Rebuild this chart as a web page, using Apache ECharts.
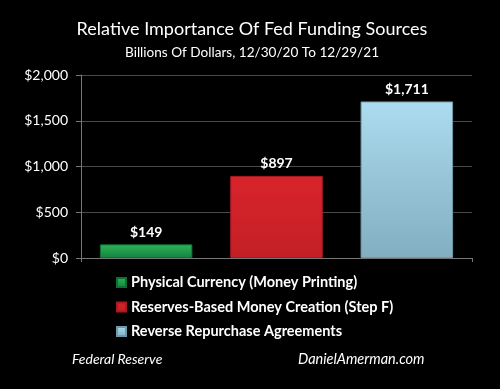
<!DOCTYPE html>
<html><head><meta charset="utf-8">
<script src="https://cdn.jsdelivr.net/npm/echarts@6/dist/echarts.min.js"></script>
<style>html,body{margin:0;padding:0;background:#000;}#c{width:500px;height:389px;}</style>
</head><body><div id="c"></div>
<script>
var categories = ['Physical Currency (Money Printing)', 'Reserves-Based Money Creation (Step F)', 'Reverse Repurchase Agreements'];
var values = [149, 897, 1711];
var yTicks = [0, 500, 1000, 1500, 2000];

var font = 'Lato, "Open Sans", sans-serif';
var fills = [
  new echarts.graphic.LinearGradient(0,0,0,1,[{offset:0,color:'#2fb35a'},{offset:1,color:'#12843e'}]),
  new echarts.graphic.LinearGradient(0,0,0,1,[{offset:0,color:'#d8242b'},{offset:1,color:'#c41f26'}]),
  new echarts.graphic.LinearGradient(0,0,0,1,[{offset:0,color:'#acdcef'},{offset:1,color:'#82aec0'}])
];
var legendColors = ['#1a9a4a', '#d0222a', '#9ccbe0'];
var borders = ['#0e6f32', '#a81a20', '#6f98a8'];

var series = categories.map(function(name, i){
  var d = categories.map(function(_, j){ return j === i ? values[j] : '-'; });
  return {
    name: name, type: 'bar', stack: 'all', data: d, barWidth: '71%',
    color: legendColors[i],
    itemStyle: { color: fills[i], borderColor: borders[i], borderWidth: 1 },
    label: { show: true, position: 'top', color: '#fff', fontFamily: font, fontWeight: 'bold', fontSize: 14,
      formatter: function(p){ return '$' + p.value.toLocaleString('en-US'); } }
  };
});

var chart = echarts.init(document.getElementById('c'));
chart.setOption({
  backgroundColor: '#000',
  animation: false,
  title: [
    { text: 'Relative Importance Of Fed Funding Sources', left: 247, top: 15, textAlign: 'center',
      textStyle: { color: '#fff', fontFamily: font, fontWeight: 'normal', fontSize: 18 } },
    { text: 'Billions Of Dollars, 12/30/20 To 12/29/21', left: 247, top: 41, textAlign: 'center',
      textStyle: { color: '#fff', fontFamily: font, fontWeight: 'normal', fontSize: 13.6 } }
  ],
  grid: { left: 81, right: 28, top: 75, bottom: 131, containLabel: false },
  legend: {
    orient: 'vertical', left: 111, top: 270, itemWidth: 9, itemHeight: 9, itemGap: 9.5,
    icon: 'rect',
    textStyle: { color: '#fff', fontFamily: font, fontWeight: 'bold', fontSize: 14.5 },
    data: categories
  },
  xAxis: {
    type: 'category', data: categories,
    axisLine: { lineStyle: { color: '#777' } },
    axisTick: { show: true, alignWithLabel: false, length: 4, lineStyle: { color: '#777' } },
    axisLabel: { show: false }
  },
  yAxis: {
    type: 'value', min: yTicks[0], max: yTicks[yTicks.length-1], interval: 500,
    axisLine: { show: true, lineStyle: { color: '#777' } },
    axisTick: { show: true, length: 5, lineStyle: { color: '#777' } },
    splitLine: { lineStyle: { color: '#4a4a4a' } },
    axisLabel: { color: '#fff', fontFamily: font, fontSize: 14, margin: 13,
      formatter: function(v){ return '$' + v.toLocaleString('en-US'); } }
  },
  graphic: [
    { type: 'text', left: 72, top: 352, style: { text: 'Federal Reserve', fill: '#fff', font: 'italic 14px ' + font } },
    { type: 'text', left: 298, top: 352, style: { text: 'DanielAmerman.com', fill: '#fff', font: 'italic 14.5px ' + font } }
  ],
  series: series
});
</script></body></html>
